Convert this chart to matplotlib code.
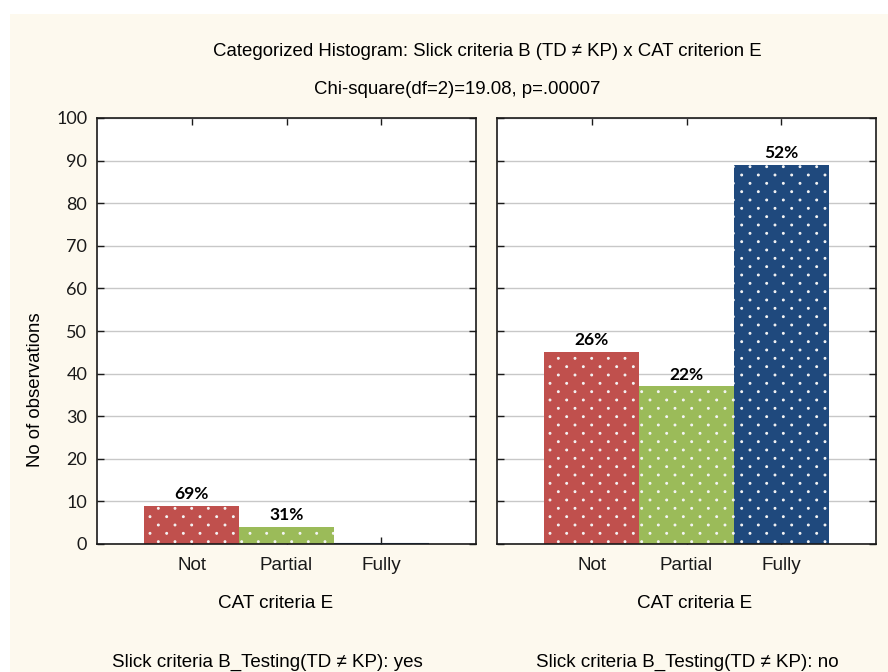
import matplotlib
matplotlib.use('Agg')
import matplotlib.pyplot as plt
import matplotlib.hatch as mhatch
from matplotlib.patches import Rectangle
from matplotlib.path import Path
import numpy as np

# data
categories = ['Not', 'Partial', 'Fully']
counts_yes = [9, 4, 0]
counts_no = [45, 37, 89]
pct_yes = ['69%', '31%', '']
pct_no = ['26%', '22%', '52%']
bar_colors = ['#c0504d', '#9bbb59', '#1f497d']
yticks = list(range(0, 101, 10))

title = 'Categorized Histogram: Slick criteria B (TD \u2260 KP) x CAT criterion E'
subtitle = 'Chi-square(df=2)=19.08, p=.00007'
xlabel = 'CAT criteria E'
ylabel = 'No of observations'
panel_titles = ['Slick criteria B_Testing(TD \u2260 KP): yes',
                'Slick criteria B_Testing(TD \u2260 KP): no']


# dotted fill like the original: rows twice as dense as the dots in a row
class RefDots(mhatch.HatchPatternBase):
    def __init__(self, hatch, density):
        self.ncol = hatch.count('.') * int(density)
        circ = Path.unit_circle()
        self.shape_vertices = circ.vertices
        self.shape_codes = circ.codes
        self.nrow = 2 * self.ncol
        if self.ncol == 0:
            self.num_vertices = 0
        else:
            n_even = self.nrow // 2 + 1
            n_odd = self.nrow // 2
            n_shapes = n_even * (self.ncol + 1) + n_odd * self.ncol
            self.num_vertices = n_shapes * len(self.shape_vertices)

    def set_vertices_and_codes(self, vertices, codes):
        step = 1.0 / self.ncol
        shape = self.shape_vertices * 0.009
        vparts, cparts = [], []
        for row in range(self.nrow + 1):
            if row % 2 == 0:
                cols = np.linspace(0, 1, self.ncol + 1)
            else:
                cols = np.linspace(step / 2, 1 - step / 2, self.ncol)
            for c in cols:
                vparts.append(shape + [c, row / self.nrow])
                cparts.append(self.shape_codes)
        np.concatenate(vparts, out=vertices)
        np.concatenate(cparts, out=codes)


mhatch._hatch_types = [t for t in mhatch._hatch_types
                       if t is not mhatch.SmallFilledCircles] + [RefDots]

plt.rcParams['hatch.color'] = '#f4f4f4'
plt.rcParams['hatch.linewidth'] = 0.8

W, H = 888, 672
fig = plt.figure(figsize=(W / 100, H / 100), dpi=100, facecolor='white')
fig.patches.append(Rectangle((10 / W, 0), 1, (H - 14) / H, transform=fig.transFigure,
                             facecolor='#fdf9ee', edgecolor='none', zorder=-10))

sans = ['Liberation Sans', 'DejaVu Sans']
calib = ['Lato', 'DejaVu Sans']
fig.text(487 / W, 1 - 52 / H, title, ha='center', va='center', fontsize=13.4, family=sans)
fig.text(457 / W, 1 - 89 / H, subtitle, ha='center', va='center', fontsize=13.4, family=sans)
fig.text(35 / W, 1 - 390 / H, ylabel, ha='center', va='center', rotation=90,
         fontsize=13.4, family=sans)

x = np.arange(len(categories))
panels = [(97, counts_yes, pct_yes, 276), (497, counts_no, pct_no, 695)]
for i, (left, counts, pcts, xl_pos) in enumerate(panels):
    ax = fig.add_axes([left / W, (H - 544) / H, 379 / W, 426 / H])
    ax.set_facecolor('white')
    for xi, c, col in zip(x, counts, bar_colors):
        if c == 0:
            ax.bar(xi, c, width=1.0, color=col, edgecolor=col, linewidth=1.5, zorder=2)
        else:
            ax.bar(xi, c, width=1.0, color=col, hatch='.', linewidth=0, zorder=2)
    for xi, c, p in zip(x, counts, pcts):
        if p:
            ax.text(xi, c + 0.9, p, ha='center', va='bottom', fontsize=12.5,
                    fontweight='bold', family=calib)
    ax.set_xlim(-1, 3)
    ax.set_ylim(0, 100)
    ax.set_yticks(yticks)
    ax.set_xticks(x)
    ax.set_xticklabels(categories, fontsize=13.6, family=sans)
    ax.yaxis.grid(True, color='#c8c8c8', linewidth=1, zorder=0)
    ax.set_axisbelow(True)
    ax.tick_params(direction='in', length=5, width=1, top=True, right=True, pad=9,
                   colors='#1a1a1a')
    ax.tick_params(axis='y', labelsize=13, pad=7)
    if i == 0:
        for lab in ax.get_yticklabels():
            lab.set_family(calib)
    else:
        ax.set_yticklabels([])
    for s in ax.spines.values():
        s.set_color('#1a1a1a')
        s.set_linewidth(1.2)
    fig.text(xl_pos / W, 1 - 603 / H, xlabel, ha='center', va='center',
             fontsize=13.6, family=sans)

fig.text(267 / W, 1 - 662 / H, panel_titles[0], ha='center', va='center',
         fontsize=13.5, family=sans)
fig.text(687 / W, 1 - 662 / H, panel_titles[1], ha='center', va='center',
         fontsize=13.5, family=sans)

fig.savefig('out.png', dpi=100, facecolor=fig.get_facecolor())
